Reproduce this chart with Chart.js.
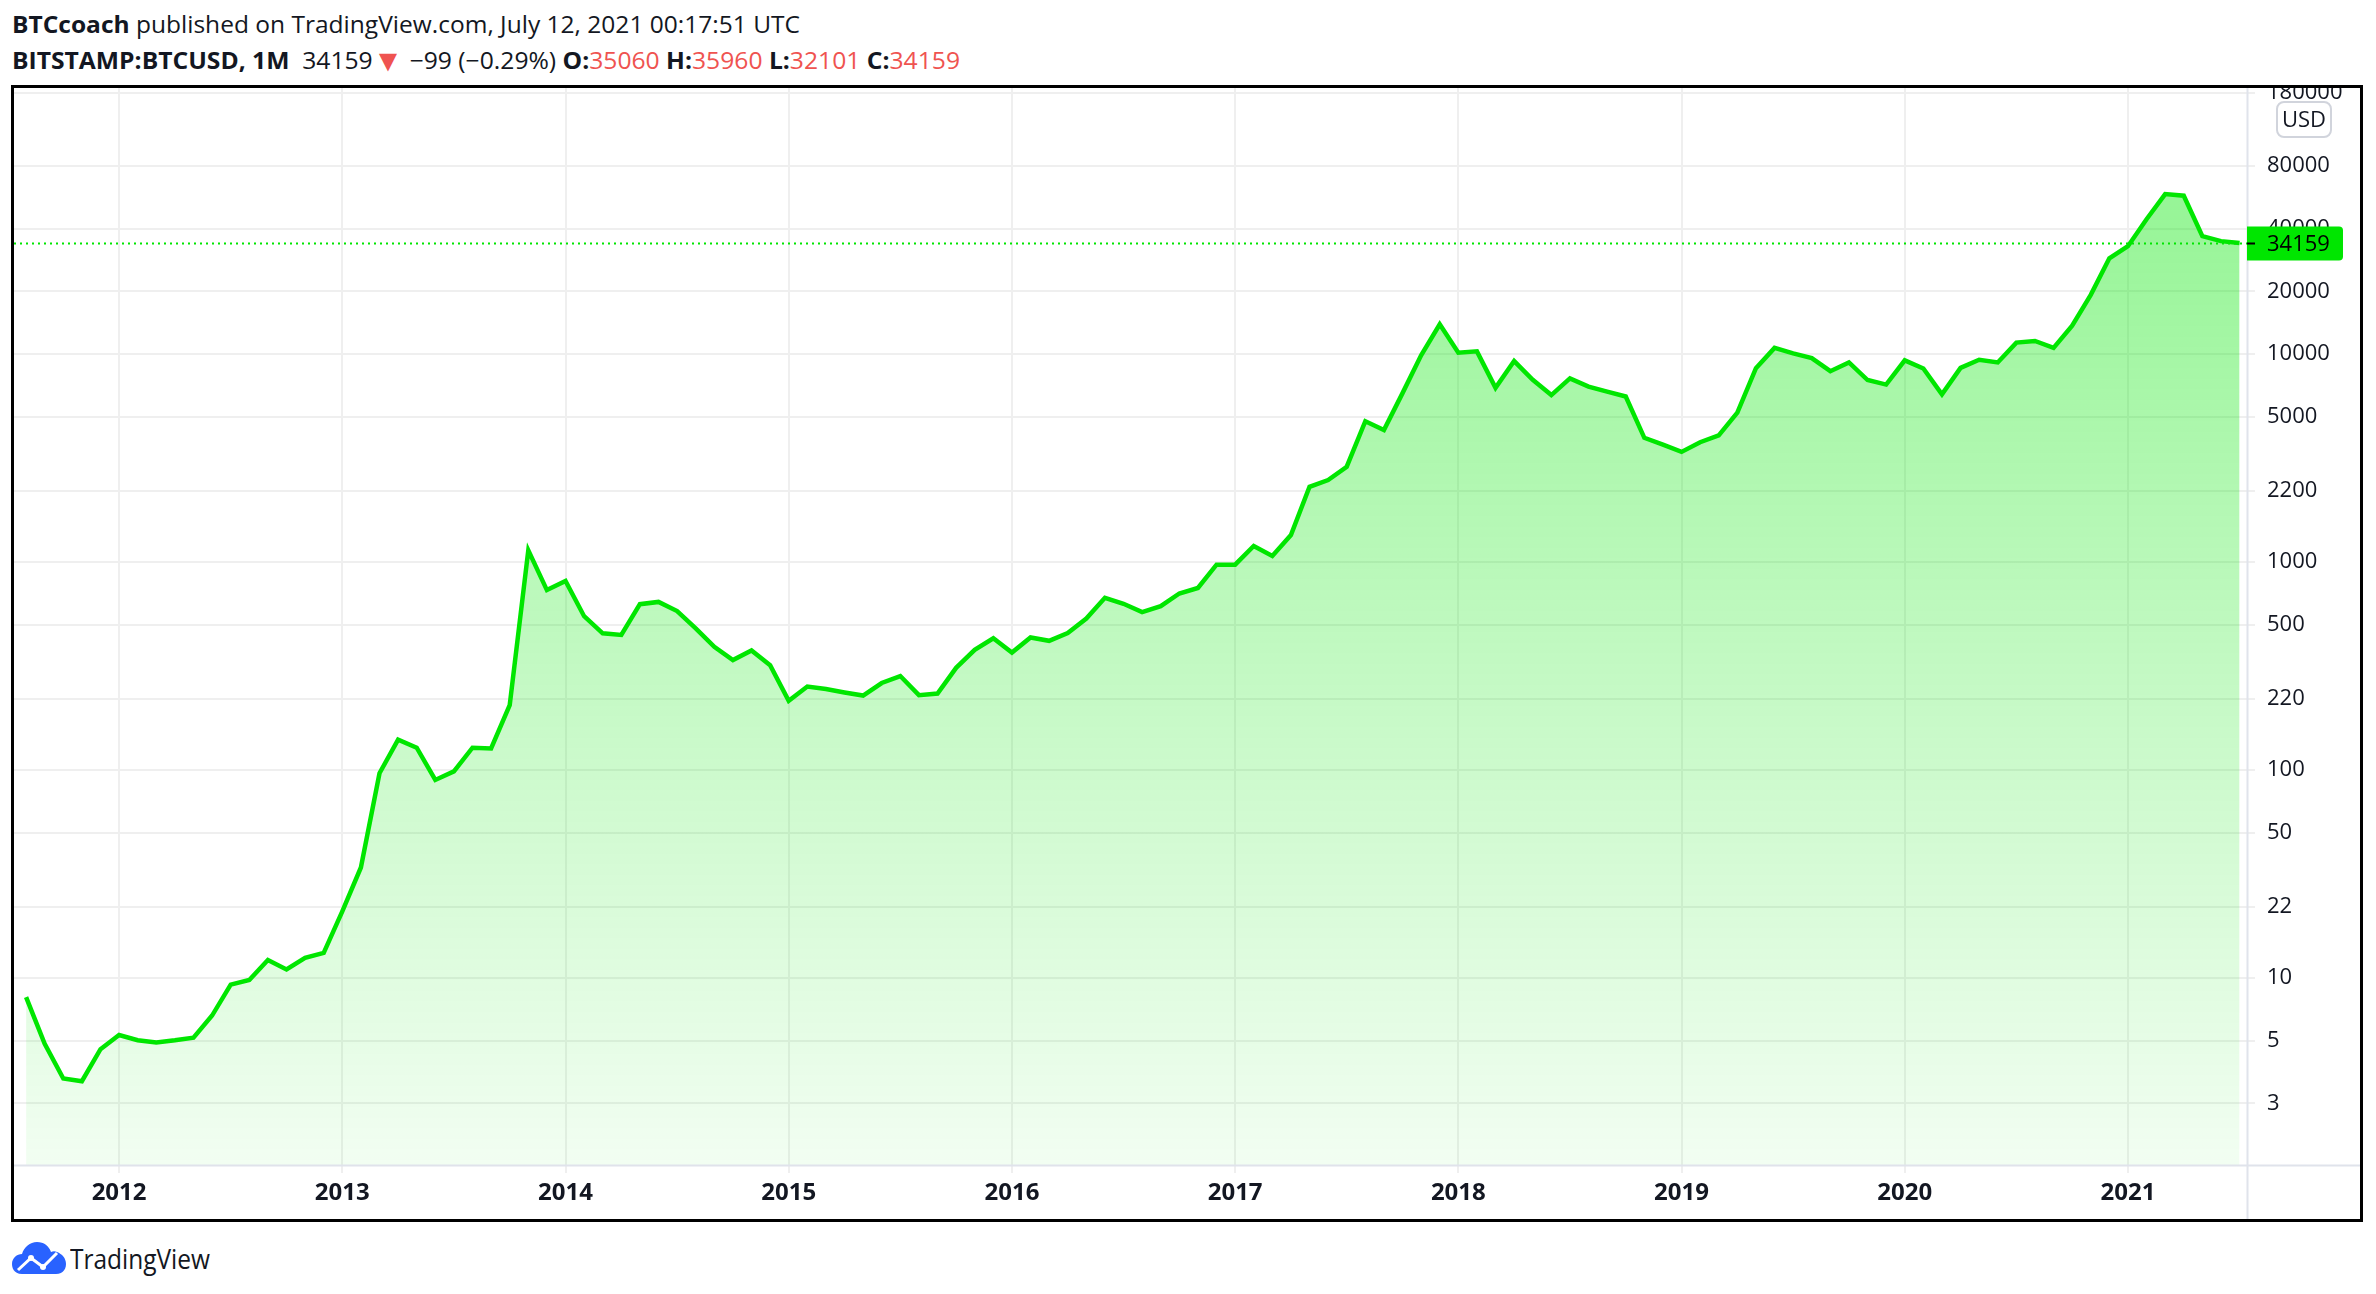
<!DOCTYPE html>
<html>
<head>
<meta charset="utf-8">
<script src="https://cdn.jsdelivr.net/npm/chart.js@4/dist/chart.umd.min.js"></script>
<style>
  html, body { margin:0; padding:0; background:#ffffff; width:2376px; height:1294px; overflow:hidden; }
  body { position:relative; font-family:"Open Sans", "Noto Sans", sans-serif; color:#131722; }
  .hdr { position:absolute; left:12px; font-size:24px; line-height:24px; white-space:nowrap; display:inline-block; transform-origin:0 0; }
  .hdr b { font-weight:700; }
  .red { color:#ef5350; }
  .tri { color:#ef5350; font-size:30px; line-height:24px; display:inline-block; transform:translateY(2px); }
  #frame { position:absolute; left:11px; top:85px; width:2346px; height:1131px; border:3px solid #000; }
  #cv { position:absolute; left:0; top:0; }
  #logo { position:absolute; left:12px; top:1242px; height:32px; display:flex; align-items:center; }
  #logo span { font-size:28px; margin-left:4px; color:#131722; display:inline-block; transform-origin:0 50%; }
</style>
</head>
<body>
<div id="h1" class="hdr" style="top:12px"><b>BTCcoach</b> published on TradingView.com, July 12, 2021 00:17:51 UTC</div>
<div id="h2" class="hdr" style="top:46px"><b>BITSTAMP:BTCUSD, 1M</b>&nbsp; 34159<span class="tri">▼</span> −99 (−0.29%) <b>O:</b><span class="red">35060</span> <b>H:</b><span class="red">35960</span> <b>L:</b><span class="red">32101</span> <b>C:</b><span class="red">34159</span></div>
<div id="frame"><canvas id="cv" width="2346" height="1131"></canvas></div>
<div id="logo">
  <svg width="54" height="32" viewBox="0 0 54 32">
    <path d="M10 32 C2 32 0 26 0 22 C0 16 5 12 10 12 C12 5 18 0 25 0 C32 0 37 4 39 10 C41 9 43 9 45 10 C50 12 54 16 54 22 C54 28 50 32 44 32 Z" fill="#2962ff"/>
    <polyline points="6,28 19,16 31,25 45,11" fill="none" stroke="#ffffff" stroke-width="3"/>
    <circle cx="19" cy="16" r="3" fill="#ffffff"/><circle cx="31" cy="25" r="3" fill="#ffffff"/>
  </svg>
  <span id="tvtext">TradingView</span>
</div>
<script>
// ---- data ----
const months = [
 '2011-08','2011-09','2011-10','2011-11','2011-12',
 '2012-01','2012-02','2012-03','2012-04','2012-05','2012-06','2012-07','2012-08','2012-09','2012-10','2012-11','2012-12',
 '2013-01','2013-02','2013-03','2013-04','2013-05','2013-06','2013-07','2013-08','2013-09','2013-10','2013-11','2013-12',
 '2014-01','2014-02','2014-03','2014-04','2014-05','2014-06','2014-07','2014-08','2014-09','2014-10','2014-11','2014-12',
 '2015-01','2015-02','2015-03','2015-04','2015-05','2015-06','2015-07','2015-08','2015-09','2015-10','2015-11','2015-12',
 '2016-01','2016-02','2016-03','2016-04','2016-05','2016-06','2016-07','2016-08','2016-09','2016-10','2016-11','2016-12',
 '2017-01','2017-02','2017-03','2017-04','2017-05','2017-06','2017-07','2017-08','2017-09','2017-10','2017-11','2017-12',
 '2018-01','2018-02','2018-03','2018-04','2018-05','2018-06','2018-07','2018-08','2018-09','2018-10','2018-11','2018-12',
 '2019-01','2019-02','2019-03','2019-04','2019-05','2019-06','2019-07','2019-08','2019-09','2019-10','2019-11','2019-12',
 '2020-01','2020-02','2020-03','2020-04','2020-05','2020-06','2020-07','2020-08','2020-09','2020-10','2020-11','2020-12',
 '2021-01','2021-02','2021-03','2021-04','2021-05','2021-06','2021-07'
];
const closes = [
 8.1, 4.83, 3.29, 3.19, 4.55,
 5.32, 5.02, 4.90, 5.02, 5.17, 6.6, 9.29, 9.78, 12.2, 11.0, 12.5, 13.2,
 20.9, 34, 96.5, 140, 128, 89.6, 98.5, 128, 127, 205, 1138, 733,
 811, 549, 454, 446, 627, 643, 581, 480, 391, 338, 376, 319,
 215, 252, 245, 236, 228, 262, 283, 229, 233, 310, 378, 430,
 367, 434, 418, 456, 535, 673, 630, 574, 614, 706, 750, 971,
 971, 1194, 1069, 1349, 2300, 2477, 2872, 4751, 4316, 6486, 9855, 13900,
 10150, 10300, 6880, 9250, 7520, 6350, 7640, 6970, 6590, 6250, 3955, 3670,
 3385, 3767, 4060, 5230, 8550, 10700, 10070, 9560, 8270, 9110, 7500, 7130,
 9320, 8520, 6400, 8580, 9390, 9110, 11350, 11560, 10700, 13680, 19250, 28860,
 33000, 44450, 58750, 57700, 36900, 34900, 34159
];
const yearLabels = ['2012','2013','2014','2015','2016','2017','2018','2019','2020','2021'];
// price-scale ticks: value on the log axis and the label TradingView prints for it
const priceTicks      = [180000, 80000, 40000, 20000, 10000, 5000, 2200, 1000, 500, 220, 100, 50, 22, 10, 5, 2.5];
const priceTickLabels = ['180000','80000','40000','20000','10000','5000','2200','1000','500','220','100','50','22','10','5','3'];
const lastPrice = 34159;
const currencyLabel = 'USD';

// ---- header width fitting (original font is condensed) ----
function fitWidth(id, target) {
  const el = document.getElementById(id);
  const w = el.getBoundingClientRect().width;
  if (w > 0) el.style.transform = 'scaleX(' + (target / w) + ')';
}
fitWidth('h1', 788);
fitWidth('h2', 948);
fitWidth('tvtext', 140);

const yearIndex = yearLabels.map(y => months.indexOf(y + '-01'));
const points = closes.map((v, i) => ({ x: i, y: v }));

const GREEN = '#00e600';
const GRID = '#efefef';
const SEP = '#e0e3eb';
const TXT = '#131722';

function noPad(s) { s.paddingTop = 0; s.paddingBottom = 0; s.paddingLeft = 0; s.paddingRight = 0; }

const overlay = {
  id: 'overlay',
  afterDraw(chart) {
    const ctx = chart.ctx;
    const a = chart.chartArea;
    const ys = chart.scales.y;
    ctx.save();
    // separators
    ctx.strokeStyle = SEP; ctx.lineWidth = 2;
    ctx.beginPath(); ctx.moveTo(a.right + 0.5, 0); ctx.lineTo(a.right + 0.5, chart.height); ctx.stroke();
    ctx.beginPath(); ctx.moveTo(0, a.bottom + 0.5); ctx.lineTo(chart.width, a.bottom + 0.5); ctx.stroke();
    // last price dotted line
    const py = Math.round(ys.getPixelForValue(lastPrice)) + 0.5;
    ctx.strokeStyle = GREEN; ctx.lineWidth = 2; ctx.setLineDash([2, 4]);
    ctx.beginPath(); ctx.moveTo(a.left, py); ctx.lineTo(a.right, py); ctx.stroke();
    ctx.setLineDash([]);
    // price box
    const bx = a.right, bw = 96, bh = 34;
    ctx.fillStyle = GREEN;
    ctx.beginPath();
    ctx.moveTo(bx, py - bh / 2);
    ctx.lineTo(bx + bw - 4, py - bh / 2);
    ctx.quadraticCurveTo(bx + bw, py - bh / 2, bx + bw, py - bh / 2 + 4);
    ctx.lineTo(bx + bw, py + bh / 2 - 4);
    ctx.quadraticCurveTo(bx + bw, py + bh / 2, bx + bw - 4, py + bh / 2);
    ctx.lineTo(bx, py + bh / 2);
    ctx.closePath(); ctx.fill();
    ctx.strokeStyle = '#000'; ctx.lineWidth = 2;
    ctx.beginPath(); ctx.moveTo(bx, py); ctx.lineTo(bx + 8, py); ctx.stroke();
    ctx.fillStyle = '#000';
    ctx.font = '22px "Open Sans", sans-serif';
    ctx.textBaseline = 'middle'; ctx.textAlign = 'left';
    ctx.fillText(String(lastPrice), bx + 20, py + 1);
    // currency badge
    const ux = a.right + 30, uy = 14, uw = 54, uh = 35;
    ctx.fillStyle = '#fff'; ctx.strokeStyle = '#d1d4dc'; ctx.lineWidth = 2;
    ctx.beginPath();
    if (ctx.roundRect) ctx.roundRect(ux, uy, uw, uh, 7); else ctx.rect(ux, uy, uw, uh);
    ctx.fill(); ctx.stroke();
    ctx.fillStyle = TXT; ctx.textAlign = 'center';
    ctx.font = '22px "Open Sans", sans-serif';
    ctx.fillText(currencyLabel, ux + uw / 2, uy + uh / 2 + 1);
    ctx.restore();
  }
};

const chart = new Chart(document.getElementById('cv'), {
  type: 'line',
  data: {
    datasets: [{
      data: points,
      borderColor: GREEN,
      borderWidth: 4.5,
      pointRadius: 0,
      tension: 0,
      fill: 'start',
      backgroundColor(c) {
        const ch = c.chart; const a = ch.chartArea;
        if (!a) return 'rgba(0,230,0,0.2)';
        const top = ch.scales.y.getPixelForValue(Math.max(...closes));
        const g = ch.ctx.createLinearGradient(0, top, 0, a.bottom);
        g.addColorStop(0, 'rgba(0,230,0,0.41)');
        g.addColorStop(1, 'rgba(0,230,0,0.05)');
        return g;
      }
    }]
  },
  options: {
    responsive: false,
    animation: false,
    devicePixelRatio: 1,
    layout: { padding: 0 },
    plugins: { legend: { display: false }, tooltip: { enabled: false } },
    scales: {
      x: {
        type: 'linear',
        min: -0.65, max: 119.4,
        afterBuildTicks(s) { s.ticks = yearIndex.map(v => ({ value: v })); },
        afterFit(s) { s.height = 54; noPad(s); },
        grid: { color: GRID, lineWidth: 2, tickLength: 8, drawTicks: true },
        border: { display: false },
        ticks: {
          autoSkip: false, maxRotation: 0, padding: 6, color: TXT,
          font: { family: '"Open Sans", sans-serif', size: 24, weight: 'bold' },
          callback(v) { const k = yearIndex.indexOf(v); return k >= 0 ? yearLabels[k] : ''; }
        }
      },
      y: {
        type: 'logarithmic',
        position: 'right',
        min: 1.262, max: 190100,
        afterBuildTicks(s) { s.ticks = priceTicks.map(v => ({ value: v })); },
        afterFit(s) { s.width = 113; noPad(s); },
        grid: { color: GRID, lineWidth: 2, tickLength: 8, drawTicks: true },
        border: { display: false },
        ticks: {
          autoSkip: false, padding: 12, color: TXT,
          font: { family: '"Open Sans", sans-serif', size: 22 },
          callback(v) { const k = priceTicks.indexOf(v); return k >= 0 ? priceTickLabels[k] : ''; }
        }
      }
    }
  },
  plugins: [overlay]
});
</script>
</body>
</html>
